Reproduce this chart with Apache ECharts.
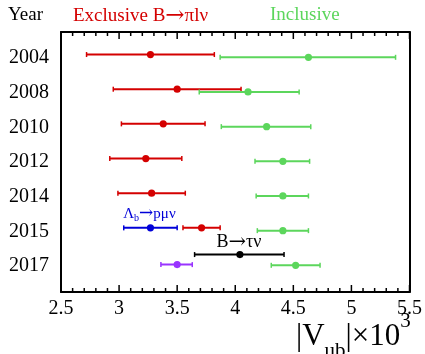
<!DOCTYPE html>
<html><head><meta charset="utf-8">
<script src="https://cdn.jsdelivr.net/npm/echarts@6/dist/echarts.min.js"></script>
<style>html,body{margin:0;padding:0;background:#fff}#c{width:425px;height:354px}</style>
</head><body><div id="c"></div>
<script>
// ---- data ----
const years = ['2004', '2008', '2010', '2012', '2014', '2015', '2017'];
const xTicks = [2.5, 3, 3.5, 4, 4.5, 5, 5.5];
// each entry: [row index (into years), low, central, high]  (|Vub| x 10^3)
const exclusiveBpilnu = [[0, 2.72, 3.27, 3.82], [1, 2.95, 3.50, 4.05], [2, 3.02, 3.38, 3.74], [3, 2.92, 3.23, 3.54], [4, 2.99, 3.28, 3.57], [5, 3.55, 3.71, 3.87]];
const inclusive = [[0, 3.87, 4.63, 5.38], [1, 3.69, 4.11, 4.55], [2, 3.88, 4.27, 4.65], [3, 4.17, 4.41, 4.64], [4, 4.18, 4.41, 4.63], [5, 4.19, 4.41, 4.63], [6, 4.31, 4.52, 4.73]];
const lambdaBpmunu = [[5, 3.04, 3.27, 3.50]];
const bTaunu = [[6, 3.65, 4.04, 4.42]];
const exclusive2017 = [[6, 3.36, 3.50, 3.63]];

// ---- style ----
const FONT = '"Liberation Serif", "DejaVu Serif", serif';
const ARROWFONT = '"DejaVu Serif", serif';
const RED = '#d40000', GREEN = '#5cd65c', BLUE = '#0000d8', PURPLE = '#9933ff', BLACK = '#000';
const ROW0 = 0.75, YMAX = 7.5;
const MINOR_PER_MAJOR = 5;

const groups = [
  { data: exclusiveBpilnu, color: RED, dy: -0.1 },
  { data: inclusive, color: GREEN, dy: -0.02 },
  { data: lambdaBpmunu, color: BLUE, dy: -0.1, label: '{m|Λ}{s|b}{a|→}{m|pμν}', lsize: 15, asize: 17, ldy: -14 },
  { data: bTaunu, color: BLACK, dy: -0.33, label: '{m|B}{a|→}{m|τν}', lsize: 18, asize: 21, ldy: -12 },
  { data: exclusive2017, color: PURPLE, dy: -0.04 }
];

function makeRender(g) {
  return function (params, api) {
    const y = api.value(0);
    const lo = api.coord([api.value(1), y]);
    const c = api.coord([api.value(2), y]);
    const hi = api.coord([api.value(3), y]);
    const st = { stroke: g.color, lineWidth: 2 };
    const children = [
      { type: 'line', shape: { x1: lo[0], y1: lo[1], x2: hi[0], y2: hi[1] }, style: st },
      { type: 'line', shape: { x1: lo[0], y1: lo[1] - 2.5, x2: lo[0], y2: lo[1] + 2.5 }, style: { stroke: g.color, lineWidth: 1.5 } },
      { type: 'line', shape: { x1: hi[0], y1: hi[1] - 2.5, x2: hi[0], y2: hi[1] + 2.5 }, style: { stroke: g.color, lineWidth: 1.5 } },
      { type: 'circle', shape: { cx: c[0], cy: c[1], r: 3.6 }, style: { fill: g.color } }
    ];
    if (g.label) {
      children.push({
        type: 'text',
        style: {
          x: c[0] - 1, y: c[1] + g.ldy, text: g.label, align: 'center', verticalAlign: 'middle',
          rich: {
            m: { fontFamily: FONT, fontSize: g.lsize, fill: g.color },
            a: { fontFamily: ARROWFONT, fontSize: g.asize, fill: g.color },
            s: { fontFamily: FONT, fontSize: 10, fill: g.color, padding: [9, 0, 0, 0] }
          }
        }
      });
    }
    return { type: 'group', children };
  };
}

const series = groups.map(g => ({
  type: 'custom',
  renderItem: makeRender(g),
  clip: false,
  encode: { x: [1, 2, 3], y: 0 },
  data: g.data.map(d => [ROW0 + d[0] + g.dy, d[1], d[2], d[3]])
}));

// frame ticks (major at xTicks, minor subdivisions), drawn inward on top and bottom edges
const tickData = [];
xTicks.forEach((t, i) => {
  tickData.push([t, YMAX]);
  if (i < xTicks.length - 1) {
    const step = (xTicks[i + 1] - t) / MINOR_PER_MAJOR;
    for (let k = 1; k < MINOR_PER_MAJOR; k++) tickData.push([t + k * step, YMAX]);
  }
});
const isMajor = v => xTicks.some(t => Math.abs(t - v) < 1e-6);
series.push({
  type: 'custom',
  clip: false,
  silent: true,
  encode: { x: 0, y: 1 },
  data: tickData,
  renderItem: function (params, api) {
    const v = api.value(0);
    const len = isMajor(v) ? 7 : 4;
    const b = api.coord([v, YMAX]);
    const t = api.coord([v, 0]);
    return {
      type: 'group', children: [
        { type: 'line', shape: { x1: b[0], y1: b[1], x2: b[0], y2: b[1] - len }, style: { stroke: '#000', lineWidth: 1.5 } },
        { type: 'line', shape: { x1: t[0], y1: t[1], x2: t[0], y2: t[1] + len }, style: { stroke: '#000', lineWidth: 1.5 } }
      ]
    };
  }
});

const frameLine = { show: true, onZero: false, lineStyle: { color: '#000', width: 2 } };
const chart = echarts.init(document.getElementById('c'), null, { renderer: 'canvas' });
chart.setOption({
  animation: false,
  backgroundColor: '#fff',
  grid: { left: 61, right: 14, top: 32, bottom: 62 },
  xAxis: [
    {
      type: 'value', position: 'bottom', min: xTicks[0], max: xTicks[xTicks.length - 1], interval: 0.5,
      axisLine: frameLine, axisTick: { show: false }, splitLine: { show: false },
      axisLabel: { show: true, fontFamily: FONT, fontSize: 20, color: '#000', margin: 7 }
    },
    {
      type: 'value', position: 'top', min: xTicks[0], max: xTicks[xTicks.length - 1], interval: 0.5,
      axisLine: frameLine, axisTick: { show: false }, splitLine: { show: false }, axisLabel: { show: false }
    }
  ],
  yAxis: [
    {
      type: 'value', inverse: true, min: 0, max: YMAX, position: 'left',
      axisLine: frameLine, axisTick: { show: false }, splitLine: { show: false },
      axisLabel: {
        customValues: years.map((_, i) => ROW0 + i),
        formatter: v => years[Math.round(v - ROW0)],
        fontFamily: FONT, fontSize: 20, color: '#000', margin: 12
      }
    },
    {
      type: 'value', inverse: true, min: 0, max: YMAX, position: 'right',
      axisLine: frameLine, axisTick: { show: false }, splitLine: { show: false }, axisLabel: { show: false }
    }
  ],
  graphic: [
    { type: 'text', left: 8, top: 6, style: { text: 'Year', font: '19px ' + FONT, fill: '#000' } },
    {
      type: 'text', left: 73, top: 5,
      style: {
        text: '{m|Exclusive B}{a|→}{m|πlν}',
        rich: {
          m: { fontFamily: FONT, fontSize: 19, fill: RED },
          a: { fontFamily: ARROWFONT, fontSize: 23, fill: RED }
        }
      }
    },
    { type: 'text', left: 270, top: 6, style: { text: 'Inclusive', font: '19px ' + FONT, fill: GREEN } },
    {
      type: 'text', left: 296, top: 311,
      style: {
        text: '{m||V}{s|ub}{m||×10}{p|3}',
        rich: {
          m: { fontFamily: FONT, fontSize: 31, fill: '#000', verticalAlign: 'bottom', padding: [0, 0, 10, 0] },
          s: { fontFamily: FONT, fontSize: 21, fill: '#000', verticalAlign: 'bottom', padding: [0, 0, 0, 0] },
          p: { fontFamily: FONT, fontSize: 21, fill: '#000', verticalAlign: 'bottom', padding: [0, 0, 30, 0] }
        }
      }
    }
  ],
  series
});
</script></body></html>
